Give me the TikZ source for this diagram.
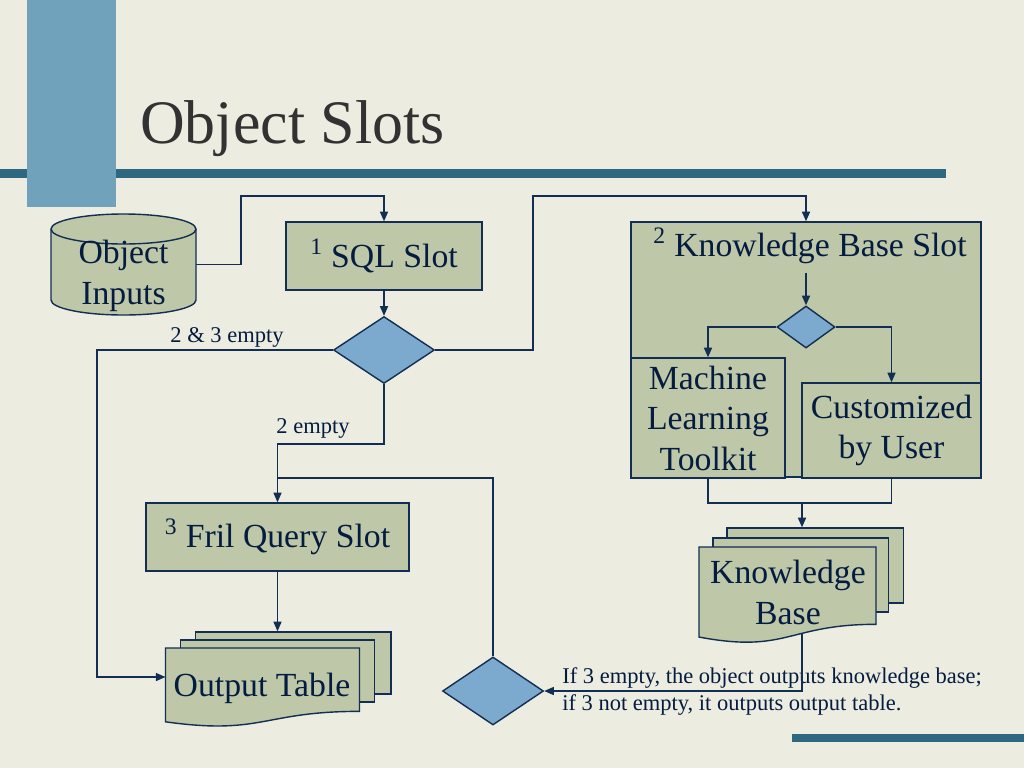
\documentclass[tikz,border=0pt]{standalone}
\usepackage{fontspec}
\setmainfont{Liberation Serif}
\usepackage{xcolor}
\definecolor{ColBg}{RGB}{236,236,224}
\definecolor{ColBar}{RGB}{46,104,128}
\definecolor{ColPost}{RGB}{112,162,188}
\definecolor{ColBox}{RGB}{190,199,168}
\definecolor{ColDiam}{RGB}{124,170,206}
\definecolor{ColLine}{RGB}{18,46,82}
\definecolor{ColText}{RGB}{4,28,64}
\definecolor{ColTitle}{RGB}{50,50,50}
\usepackage{tikz}
\usetikzlibrary{shapes.geometric}
\usetikzlibrary{arrows.meta}
\newcommand{\px}{0.25mm}
\tikzstyle{Slot}=[rectangle,draw=ColLine,fill=ColBox,line width=1pt,
inner sep=0pt,text=ColText,font=\fontsize{24}{28.8}\selectfont,align=center]
\tikzstyle{Decision}=[diamond,draw=ColLine,fill=ColDiam,line width=1pt,
inner sep=0pt]
\tikzstyle{Page}=[rectangle,draw=ColLine,fill=ColBox,line width=1pt,inner sep=0pt]
\tikzstyle{PageEdge}=[draw=ColLine,fill=ColBox,line width=1pt]
\tikzstyle{Edge}=[draw=ColLine,line width=1pt]
\tikzstyle{Arrow}=[Edge,-{Triangle[length=2.4mm,width=2mm]}]
\tikzstyle{NodeST}=[text=ColText,font=\fontsize{16}{19.2}\selectfont,inner sep=0pt]
\tikzstyle{BodyST}=[text=ColText,font=\fontsize{24}{28.8}\selectfont,
align=center,inner sep=0pt]
% front page of a stack: left, top, width, height
\newcommand{\DocShape}[4]{%
  \pgfmathsetmacro\dr{#1+#3}\pgfmathsetmacro\dm{#1+0.5*#3}%
  \pgfmathsetmacro\dyr{#2+0.802*#4}\pgfmathsetmacro\dyc{#2+1.107*#4}%
  \pgfmathsetmacro\dyl{#2+0.934*#4}%
  \filldraw[PageEdge](#1,#2)--(\dr,#2)--(\dr,\dyr)
    .. controls (\dm,\dyr) and (\dm,\dyc) .. (#1,\dyl)--cycle;}

\begin{document}
\begin{tikzpicture}[x=\px,y=-\px]
        \useasboundingbox(0,0)rectangle(1024,768);
        \fill[ColBg](0,0)rectangle(1024,768);
        \fill[ColBar](0,169)rectangle(946,178);
        \fill[ColPost](27,0)rectangle(116,207);
        \fill[ColBar](792,734)rectangle(1024,742);
        \node[anchor=base west,text=ColTitle,inner sep=0pt,
            font=\fontsize{44}{52}\selectfont](title)at(140,143){Object Slots};
        % object inputs (drum)
        \node[inner sep=0pt,minimum width=145*\px,minimum height=101*\px]
            (inputs)at(123.5,264.5){};
        \filldraw[PageEdge](51,229)--(51,300)
            arc[start angle=180,end angle=0,x radius=72.5,y radius=15]
            --(196,229)
            arc[start angle=0,end angle=-180,x radius=72.5,y radius=15];
        \draw[Edge](51,229)
            arc[start angle=180,end angle=0,x radius=72.5,y radius=15];
        \node[BodyST](inputstxt)at(123.5,276){Object\\Inputs};
        % slots
        \node[Slot,minimum width=196*\px,minimum height=68*\px](sql)
            at(384,256){\textsuperscript{1} SQL Slot};
        \node[Decision,minimum width=101*\px,minimum height=67*\px](d1)
            at(384,350){};
        \node[Slot,minimum width=263*\px,minimum height=68*\px](fril)
            at(277.5,537){\textsuperscript{3} Fril Query Slot};
        \node[Slot,minimum width=350*\px,minimum height=255*\px](kbslot)
            at(806,349.5){};
        \node[BodyST,inner ysep=2.2mm](kbtitle)
            at(810,246){\textsuperscript{2} Knowledge Base Slot};
        \node[Decision,minimum width=58*\px,minimum height=42*\px](d3)
            at(806,327){};
        \node[Slot,minimum width=154*\px,minimum height=120*\px](ml)
            at(708,418){Machine\\Learning\\Toolkit};
        \node[Slot,minimum width=179*\px,minimum height=95*\px](cbu)
            at(891.5,430.5){Customized\\by User};
        % knowledge base stack
        \node[Page,minimum width=176.6*\px,minimum height=75*\px](kbback)
            at(815.3,565.5){};
        \node[Page,minimum width=175.6*\px,minimum height=74*\px](kbmid)
            at(800.8,575){};
        \DocShape{699}{547}{177}{96.4}
        \node[BodyST](kbbase)at(788,592.5){Knowledge\\Base};
        % output table stack
        \node[Page,minimum width=195.4*\px,minimum height=62*\px](otback)
            at(293.3,663){};
        \node[Page,minimum width=193.9*\px,minimum height=62*\px](otmid)
            at(277.45,671){};
        \DocShape{165.5}{648}{194}{79}
        \node[BodyST](outtab)at(262,688){Output Table};
        \node[Decision,minimum width=101*\px,minimum height=68*\px](d2)
            at(493,691){};
        % labels
        \node[NodeST](lab23)at(227,337){2 \& 3 empty};
        \node[NodeST](lab2)at(313,428){2 empty};
        \node[NodeST,anchor=west,align=left](note)at(562,691)
            {If 3 empty, the object outputs knowledge base;\\
             if 3 not empty, it outputs output table.};
        \coordinate(outin)at(165.5,677);
        \coordinate(kbjoin)at(802,503);
        \coordinate(kbout)at(802,633);
        % connectors
        \draw[Arrow](inputs.east)-|(241,196)-|(sql.north);
        \draw[Arrow](sql.south)--(d1.north);
        \draw[Arrow](d1.west)-|(97,677)--(outin);
        \draw[Arrow](d1.east)-|(533,196)-|(kbslot.north);
        \draw[Arrow](d1.south)--(384,444)-|(fril.north);
        \draw[Arrow](fril.south)--(fril.south|-otback.north);
        \draw[Edge](d2.north)|-(277.5,478);
        \draw[Arrow](kbtitle.south-|d3.north)--(d3.north);
        \draw[Arrow](d3.west)-|(ml.north);
        \draw[Arrow](d3.east)-|(cbu.north);
        \draw[Edge](ml.south)|-(kbjoin)-|(cbu.south);
        \draw[Arrow](kbjoin)--(kbjoin|-kbback.north);
        \draw[Arrow](kbout)|-(d2.east);
    \end{tikzpicture}
\end{document}
